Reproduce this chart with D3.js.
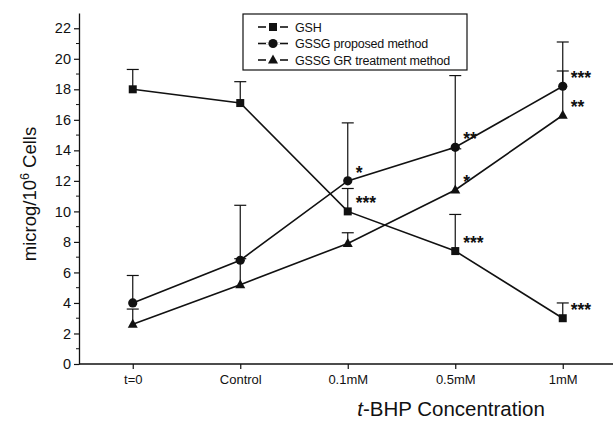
<!DOCTYPE html>
<html>
<head>
<meta charset="utf-8">
<script src="https://cdn.jsdelivr.net/npm/d3@7/dist/d3.min.js"></script>
<style>
  html, body { margin: 0; padding: 0; background: #fff; }
  svg { display: block; font-family: "Liberation Sans", Arial, sans-serif; }
  svg text { font-family: "Liberation Sans", Arial, sans-serif; }
</style>
</head>
<body>
<svg id="chart" width="613" height="422"></svg>
<script>
// t-BHP concentration groups
const categories = ["t=0", "Control", "0.1mM", "0.5mM", "1mM"];

// GSH (microg / 10^6 cells), mean and SD
const gshMean = [18.0, 17.1, 10.0, 7.4, 3.0];
const gshSD   = [1.3, 1.4, 1.5, 2.4, 1.0];

// GSSG, proposed method
const gssgPropMean = [4.0, 6.8, 12.0, 14.2, 18.2];
const gssgPropSD   = [1.8, 3.6, 3.8, 4.7, 2.9];

// GSSG, GR treatment method
const gssgGRMean = [2.6, 5.2, 7.9, 11.4, 16.3];
const gssgGRSD   = [1.0, 1.7, 0.7, 2.7, 2.9];

// significance marks
const gshSig  = ["", "", "***", "***", "***"];
const propSig = ["", "", "*", "**", "***"];
const grSig   = ["", "", "", "*", "**"];

const yTicks = [0, 2, 4, 6, 8, 10, 12, 14, 16, 18, 20, 22];

const series = [
  { name: "GSH", mean: gshMean, sd: gshSD, sig: gshSig, shape: "square" },
  { name: "GSSG proposed method", mean: gssgPropMean, sd: gssgPropSD, sig: propSig, shape: "circle" },
  { name: "GSSG GR treatment method", mean: gssgGRMean, sd: gssgGRSD, sig: grSig, shape: "triangle" }
];

const FONT = "'Liberation Sans', Arial, sans-serif";
const svg = d3.select("#chart");
const plotLeft = 79, plotBottom = 364, plotTop = 13;

const x = d3.scalePoint().domain(categories).range([plotLeft, plotLeft + 537.5]).padding(0.5);
const y = d3.scaleLinear().domain([0, 23]).range([plotBottom, plotTop]);

// y axis: major ticks with labels, minor ticks at odd values
const yAxis = d3.axisLeft(y).tickValues(yTicks).tickSize(5).tickPadding(3).tickSizeOuter(0);
const gy = svg.append("g").attr("transform", `translate(${plotLeft},0)`).call(yAxis)
  .attr("font-family", FONT);
gy.select(".domain").attr("stroke", "#111").attr("stroke-width", 1.3);
gy.selectAll(".tick line").attr("stroke", "#111").attr("stroke-width", 1.2);
gy.selectAll(".tick text").attr("font-size", 14.5).attr("fill", "#111");
gy.selectAll(".minor").data(d3.range(1, 23, 2)).enter().append("line")
  .attr("class", "minor").attr("x1", -3).attr("x2", 0)
  .attr("y1", d => y(d)).attr("y2", d => y(d))
  .attr("stroke", "#111").attr("stroke-width", 1);

// x axis
const xAxis = d3.axisBottom(x).tickSize(5).tickPadding(6).tickSizeOuter(0);
const gx = svg.append("g").attr("transform", `translate(0,${plotBottom})`).call(xAxis)
  .attr("font-family", FONT);
gx.select(".domain").remove();
gx.append("line").attr("x1", plotLeft).attr("x2", 613).attr("y1", 0).attr("y2", 0)
  .attr("stroke", "#111").attr("stroke-width", 1.3);
gx.selectAll(".tick line").attr("stroke", "#111").attr("stroke-width", 1.2);
gx.selectAll(".tick text").attr("font-size", 13).attr("fill", "#111");

// axis titles
svg.append("text")
  .attr("transform", `translate(36,194) rotate(-90)`)
  .attr("text-anchor", "middle").attr("font-size", 18.5).attr("fill", "#111")
  .call(t => {
    t.append("tspan").text("microg/10");
    t.append("tspan").attr("dy", -7).attr("font-size", 12.5).text("6");
    t.append("tspan").attr("dy", 7).text(" Cells");
  });

svg.append("text")
  .attr("x", 451).attr("y", 416)
  .attr("text-anchor", "middle").attr("font-size", 20.5).attr("fill", "#111")
  .call(t => {
    t.append("tspan").attr("font-style", "italic").text("t");
    t.append("tspan").text("-BHP Concentration");
  });

function drawMarker(g, shape, cx, cy) {
  if (shape === "square") {
    g.append("rect").attr("x", cx - 4).attr("y", cy - 4).attr("width", 8).attr("height", 8).attr("fill", "#111");
  } else if (shape === "circle") {
    g.append("circle").attr("cx", cx).attr("cy", cy).attr("r", 4.6).attr("fill", "#111");
  } else {
    g.append("path").attr("d", `M${cx},${cy - 5.5}L${cx + 5},${cy + 3.5}L${cx - 5},${cy + 3.5}Z`).attr("fill", "#111");
  }
}

const line = d3.line().x((d, i) => x(categories[i])).y(d => y(d));

series.forEach(s => {
  const g = svg.append("g");
  // upper error bars
  s.mean.forEach((m, i) => {
    const cx = x(categories[i]);
    const yTop = y(m + s.sd[i]);
    g.append("line").attr("x1", cx).attr("x2", cx).attr("y1", y(m)).attr("y2", yTop)
      .attr("stroke", "#111").attr("stroke-width", 1.2);
    g.append("line").attr("x1", cx - 6).attr("x2", cx + 6).attr("y1", yTop).attr("y2", yTop)
      .attr("stroke", "#111").attr("stroke-width", 1.2);
  });
  g.append("path").datum(s.mean).attr("d", line)
    .attr("fill", "none").attr("stroke", "#111").attr("stroke-width", 1.6);
  s.mean.forEach((m, i) => drawMarker(g, s.shape, x(categories[i]), y(m)));
  // significance stars
  s.mean.forEach((m, i) => {
    if (!s.sig[i]) return;
    g.append("text").attr("x", x(categories[i]) + 8).attr("y", y(m) - 2)
      .attr("font-size", 17.5).attr("font-weight", "bold").attr("fill", "#111")
      .text(s.sig[i]);
  });
});

// legend
const lg = svg.append("g").attr("font-family", FONT);
lg.append("rect").attr("x", 243).attr("y", 14).attr("width", 224).attr("height", 56)
  .attr("fill", "#fff").attr("stroke", "#111").attr("stroke-width", 1.2);
series.forEach((s, i) => {
  const ly = 27 + i * 16.5;
  lg.append("line").attr("x1", 258).attr("x2", 288).attr("y1", ly).attr("y2", ly)
    .attr("stroke", "#111").attr("stroke-width", 1.6);
  lg.append("rect").attr("x", 266).attr("y", ly - 1).attr("width", 14).attr("height", 2).attr("fill", "#fff");
  drawMarker(lg, s.shape, 273, ly);
  lg.append("text").attr("x", 295).attr("y", ly + 4.5).attr("font-size", 12.5).attr("fill", "#111")
    .attr("letter-spacing", -0.2).text(s.name);
});
</script>
</body>
</html>
